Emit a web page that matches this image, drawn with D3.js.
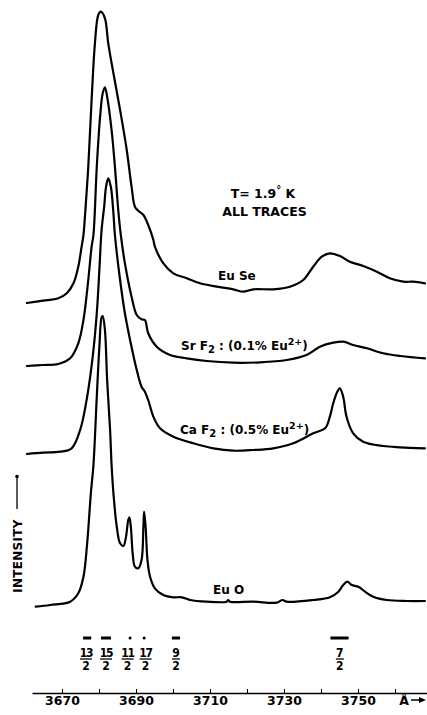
<!DOCTYPE html>
<html><head><meta charset="utf-8">
<script src="https://cdn.jsdelivr.net/npm/d3@7"></script>
<style>
html,body{margin:0;padding:0;background:#fff;}
svg{display:block;font-family:"DejaVu Sans",sans-serif;font-weight:bold;}
</style>
</head><body>
<svg id="c" width="427" height="715"></svg>
<script>
// ---------- data ----------
const seriesNames = ["Eu Se", "Sr F2", "Ca F2", "Eu O"];
const seriesOffsets = [304, 241, 153, 0];

const euSeWl = [3660.5,3664.9,3669.0,3671.3,3673.1,3674.4,3675.3,3675.8,3676.2,3677.1,3678.0,3678.9,3679.8,3680.5,3681.6,3682.5,3683.9,3685.7,3687.5,3688.8,3689.7,3690.6,3692.0,3693.3,3694.7,3695.1,3697.4,3700.1,3703.7,3707.3,3711.8,3716.3,3719.0,3721.7,3727.1,3731.6,3735.2,3737.9,3740.2,3742.4,3745.1,3747.8,3751.4,3755.1,3758.6,3762.2,3764.9,3768.1];
const euSeI  = [0,2.3,4.7,9.7,19.7,36.3,56.3,68,86.3,136.3,203,259.7,288,291.3,284.7,259.7,229.7,193,153,116.3,96.3,92.3,88,78,63,56.3,39.7,29.7,24.7,19.7,16.3,13.7,11.3,13.7,13.7,16.3,23,36.3,46.3,49.7,47,41.3,37,31.3,24.7,21.3,21.3,19.7];

const srF2Wl = [3660.5,3664.9,3669.0,3672.2,3674.4,3675.8,3677.1,3678.0,3678.5,3679.4,3680.3,3681.0,3681.6,3682.2,3683.4,3684.3,3685.2,3685.9,3687.0,3688.8,3690.2,3691.5,3692.4,3693.3,3695.6,3699.2,3703.7,3709.1,3716.3,3723.5,3730.7,3736.1,3739.7,3743.3,3746.0,3748.7,3752.4,3756.8,3761.4,3768.1];
const srF2I  = [0,1,2,7.7,22.7,46,86,119.3,131,199.3,249.3,272.7,278.7,269.3,236,199.3,156,131,102.7,69.3,51,46.7,46,32.7,19.3,11,7.7,5,3.3,3.7,6,11,19.3,23.3,24.3,21,17.7,12.7,10,7.7];

const caF2Wl = [3660.5,3664.9,3669.5,3672.6,3674.9,3676.8,3678.3,3679.4,3680.1,3680.7,3681.4,3681.9,3682.5,3683.2,3683.9,3684.3,3685.7,3687.0,3688.4,3690.2,3691.5,3692.4,3693.3,3694.7,3696.5,3700.1,3705.5,3710.9,3716.3,3721.7,3727.1,3732.5,3737.9,3741.1,3742.4,3743.3,3744.4,3745.1,3746.0,3746.9,3748.7,3751.4,3756.8,3761.4,3768.1];
const caF2I  = [0,1.3,2.3,5.7,24,57.3,97.3,140.7,184,224,247.3,267.3,275.7,267.3,240.7,219,174,140.7,114,84,67.3,62.3,54,37.3,25.7,17.3,10.7,5.7,3.3,4,5.7,10.7,20.7,25.7,37.3,50.7,62.3,65.7,57.3,37.3,20.7,12.3,8,6.7,5.7];

const euOWl = [3662.9,3666.8,3672.2,3674.4,3675.8,3676.8,3677.8,3678.5,3679.4,3680.1,3680.7,3681.0,3681.6,3682.2,3683.0,3683.4,3683.9,3684.8,3685.7,3686.6,3687.3,3687.9,3688.2,3688.6,3689.1,3689.7,3690.6,3691.5,3692.0,3692.2,3692.6,3693.1,3693.8,3695.1,3697.4,3700.1,3702.4,3704.6,3709.1,3714.5,3714.9,3715.4,3721.7,3728.0,3729.6,3730.7,3737.9,3742.4,3744.7,3746.0,3747.1,3748.3,3750.1,3751.9,3754.1,3757.8,3763.2,3768.1];
const euOI  = [0.3,2,5.3,13.7,30.3,63.7,113.7,142,210.3,260.3,289.7,291,277,227,177,142,113.7,80.3,63.7,61,70.3,87,89.7,80.3,53.7,40.3,38.7,47,80.3,95.3,80.3,47,30.3,18.7,12,9.7,9.7,7,5.3,5.3,7,5.3,5.3,4.3,7,5.3,7,9.7,15.3,22,25.3,22,20.3,15.3,10.3,7,6,6];

const tickValues = [3670,3680,3690,3700,3710,3720,3730,3740,3750,3760];
const tickLabels = ["3670","","3690","","3710","","3730","","3750",""];

const levelNums   = ["13","15","11","17","9","7"];
const levelDen    = ["2","2","2","2","2","2"];
const levelCenter = [3676.8,3681.9,3688.4,3692.2,3700.8,3745.0];
const levelWidth  = [2.2,2.7,0,0,2.2,4.9];
const levelLabelAt = [3676.5,3681.9,3687.7,3692.6,3700.8,3745.1];

// ---------- scales ----------
const svg = d3.select("#c");
const x = d3.scaleLinear().domain([3670,3760]).range([62,395]);
const y = d3.scaleLinear().domain([0,600]).range([607,7]);

const series = [
  {wl: euSeWl, v: euSeI},
  {wl: srF2Wl, v: srF2I},
  {wl: caF2Wl, v: caF2I},
  {wl: euOWl,  v: euOI}
];

const line = d3.line()
  .x(d => x(d[0]))
  .y(d => y(d[1]))
  .curve(d3.curveCatmullRom.alpha(0.5));

series.forEach((s, i) => {
  const pts = s.wl.map((w, k) => [w, s.v[k] + seriesOffsets[i]]);
  svg.append("path")
    .attr("d", line(pts))
    .attr("fill", "none")
    .attr("stroke", "#000")
    .attr("stroke-width", 2.2)
    .attr("stroke-linejoin", "round")
    .attr("stroke-linecap", "round");
});

// ---------- axis ----------
const xa = x.copy().domain([x.invert(32), x.invert(427)]).range([32,427]);
const axis = d3.axisBottom(xa)
  .tickValues(tickValues)
  .tickFormat((d, i) => tickLabels[i])
  .tickSizeInner(-4)
  .tickSizeOuter(0)
  .tickPadding(3);
const gAx = svg.append("g").attr("transform", "translate(0,693)").call(axis);
gAx.select(".domain").attr("stroke-width", 1.3);
gAx.selectAll(".tick line").attr("stroke-width", 1);
gAx.selectAll("text").attr("font-size", 12.5).attr("font-family", "DejaVu Sans").attr("font-weight", "bold").attr("fill", "#000");

// Angstrom + arrow
svg.append("text").attr("x", 404).attr("y", 705).attr("text-anchor", "middle")
  .attr("font-size", 12.5).text("Å");
svg.append("line").attr("x1", 411).attr("x2", 420).attr("y1", 700).attr("y2", 700)
  .attr("stroke", "#000").attr("stroke-width", 1.5);
svg.append("path").attr("d", "M419,697 L426,700 L419,703 Z").attr("fill", "#000");

// ---------- level markers ----------
levelCenter.forEach((c, i) => {
  const w = levelWidth[i];
  if (w > 0) {
    svg.append("rect").attr("x", x(c - w/2)).attr("y", 636.5)
      .attr("width", x(c + w/2) - x(c - w/2)).attr("height", 3).attr("fill", "#000");
  } else {
    svg.append("circle").attr("cx", x(c)).attr("cy", 638).attr("r", 1.5).attr("fill", "#000");
  }
  const lx = x(levelLabelAt[i]);
  svg.append("text").attr("x", lx).attr("y", 656.5).attr("text-anchor", "middle")
    .attr("font-family", "DejaVu Sans Condensed, DejaVu Sans").attr("font-size", 12)
    .attr("letter-spacing", levelNums[i].length > 1 ? -1.2 : 0).text(levelNums[i]);
  const bw = levelNums[i].length > 1 ? 12 : 8;
  svg.append("line").attr("x1", lx - bw/2).attr("x2", lx + bw/2)
    .attr("y1", 659).attr("y2", 659).attr("stroke", "#000").attr("stroke-width", 1.3);
  svg.append("text").attr("x", lx).attr("y", 670).attr("text-anchor", "middle")
    .attr("font-family", "DejaVu Sans Condensed, DejaVu Sans").attr("font-size", 12).text(levelDen[i]);
});

// ---------- annotations ----------
const t1 = svg.append("text").attr("x", 263).attr("y", 198).attr("text-anchor", "middle").attr("font-size", 12.5);
t1.append("tspan").text("T= 1.9");
t1.append("tspan").attr("font-size", 10).attr("dy", -5).text("°");
t1.append("tspan").attr("dy", 5).text(" K");
svg.append("text").attr("x", 264.5).attr("y", 215.5).attr("text-anchor", "middle")
  .attr("font-size", 12.5).text("ALL TRACES");

svg.append("text").attr("x", 218).attr("y", 280).attr("font-size", 12).text("Eu Se");

function dopedLabel(xp, yp, host, pct) {
  const t = svg.append("text").attr("x", xp).attr("y", yp).attr("font-size", 12);
  t.append("tspan").text(host + " F");
  t.append("tspan").attr("dy", 3).attr("font-size", 10).text("2");
  t.append("tspan").attr("dy", -3).text(" : (" + pct + "% Eu");
  t.append("tspan").attr("dy", -5).attr("font-size", 9.5).text("2+");
  t.append("tspan").attr("dy", 5).text(")");
}
dopedLabel(181, 350, "Sr", "0.1");
dopedLabel(180, 434, "Ca", "0.5");

svg.append("text").attr("x", 213).attr("y", 594).attr("font-size", 12).text("Eu O");

// INTENSITY label
svg.append("text").attr("transform", "translate(22,556) rotate(-90)")
  .attr("text-anchor", "middle").attr("font-size", 12).attr("letter-spacing", 0.3).text("INTENSITY");
svg.append("line").attr("x1", 17).attr("x2", 17).attr("y1", 509).attr("y2", 478)
  .attr("stroke", "#000").attr("stroke-width", 1.3);
svg.append("circle").attr("cx", 17).attr("cy", 476.5).attr("r", 1.8).attr("fill", "#000");
</script>
</body></html>
